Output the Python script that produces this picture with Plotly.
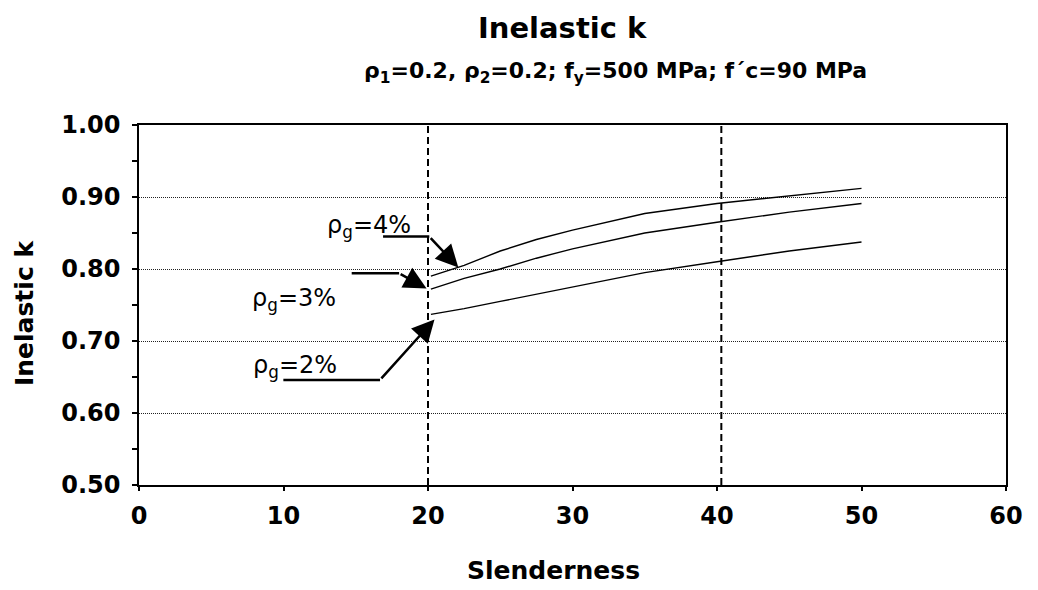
import plotly.graph_objects as go

# ---- data ----
slenderness = [20.2, 22.5, 25, 27.5, 30, 35, 40, 45, 50]
k_rho4 = [0.790, 0.805, 0.825, 0.841, 0.854, 0.877, 0.891, 0.902, 0.912]
k_rho3 = [0.772, 0.787, 0.800, 0.815, 0.828, 0.850, 0.865, 0.879, 0.891]
k_rho2 = [0.737, 0.745, 0.755, 0.765, 0.775, 0.795, 0.810, 0.825, 0.8375]

limit_lines = [20, 40.3]

labels = ["ρ<sub>g</sub>=4%", "ρ<sub>g</sub>=3%", "ρ<sub>g</sub>=2%"]
label_x = [18.96, 13.8, 13.86]
label_y = [0.859, 0.757, 0.664]
leader_tail_x = [16.89, 14.72, 9.99]
leader_corner_x = [20.09, 18.0, 16.68]
leader_y = [0.845, 0.794, 0.646]
arrow_tip_x = [22.1, 19.9, 20.45]
arrow_tip_y = [0.802, 0.773, 0.730]

x_ticks = [0, 10, 20, 30, 40, 50, 60]
y_ticks = [0.5, 0.6, 0.7, 0.8, 0.9, 1.0]

FONT = "DejaVu Sans, Verdana, sans-serif"

fig = go.Figure()
for ys in (k_rho4, k_rho3, k_rho2):
    fig.add_trace(go.Scatter(x=slenderness, y=ys, mode="lines",
                             line=dict(color="black", width=1.4),
                             showlegend=False, hoverinfo="skip"))

for xv in limit_lines:
    fig.add_shape(type="line", xref="x", yref="y", x0=xv, x1=xv, y0=0.5, y1=1.0,
                  line=dict(color="black", width=2, dash="7px,4px"))

for i in range(3):
    fig.add_trace(go.Scatter(x=[leader_tail_x[i], leader_corner_x[i]],
                             y=[leader_y[i], leader_y[i]], mode="lines",
                             line=dict(color="black", width=2.5),
                             showlegend=False, hoverinfo="skip"))
    fig.add_annotation(x=arrow_tip_x[i], y=arrow_tip_y[i], ax=leader_corner_x[i], ay=leader_y[i],
                       xref="x", yref="y", axref="x", ayref="y", text="",
                       showarrow=True, arrowhead=2, arrowsize=1.8, arrowwidth=2.5,
                       arrowcolor="black", standoff=0, startstandoff=0)
    fig.add_annotation(x=label_x[i], y=label_y[i], xref="x", yref="y", text=labels[i],
                       showarrow=False, xanchor="right", yanchor="middle",
                       font=dict(family=FONT, size=24, color="black"))

W, H = 1038, 590
ML, MR, MT, MB = 139, 32, 125, 105


def px(xp):
    return (xp - ML) / (W - ML - MR)


def py(yp):
    return 1 - (yp - MT) / (H - MT - MB)


fig.add_annotation(x=px(562), y=py(28), xref="paper", yref="paper",
                   text="<b>Inelastic k</b>", showarrow=False,
                   xanchor="center", yanchor="middle",
                   font=dict(family=FONT, size=29, color="black"))
fig.add_annotation(x=px(615), y=py(72), xref="paper", yref="paper",
                   text="<b>ρ<sub>1</sub>=0.2, ρ<sub>2</sub>=0.2; f<sub>y</sub>=500 MPa; f´c=90 MPa</b>",
                   showarrow=False, xanchor="center", yanchor="middle",
                   font=dict(family=FONT, size=22, color="black"))
fig.add_annotation(x=px(553), y=py(570), xref="paper", yref="paper",
                   text="<b>Slenderness</b>", showarrow=False,
                   xanchor="center", yanchor="middle",
                   font=dict(family=FONT, size=25, color="black"))
fig.add_annotation(x=px(24), y=py(313), xref="paper", yref="paper",
                   text="<b>Inelastic k</b>", showarrow=False,
                   textangle=-90, xanchor="center", yanchor="middle",
                   font=dict(family=FONT, size=25, color="black"))

fig.update_layout(
    width=W, height=H,
    margin=dict(l=ML, r=MR, t=MT, b=MB, pad=0),
    paper_bgcolor="white", plot_bgcolor="white",
    showlegend=False,
    font=dict(family=FONT, color="black"),
    xaxis=dict(range=[0, 60], tickvals=x_ticks, ticktext=[f"<b>{v}</b>" for v in x_ticks],
               showgrid=False, zeroline=False, showline=True, linecolor="black", linewidth=1.5,
               mirror=True, ticks="outside", ticklen=4, tickwidth=1.5, tickcolor="black",
               ticklabelstandoff=4,
               tickfont=dict(family=FONT, size=24, color="black")),
    yaxis=dict(range=[0.5, 1.0], tickvals=y_ticks, ticktext=[f"<b>{v:.2f}</b>" for v in y_ticks],
               showgrid=True, gridcolor="#222222", gridwidth=1, griddash="1px,1px",
               zeroline=False, showline=True, linecolor="black", linewidth=1.5,
               mirror=True, ticks="outside", ticklen=5, tickwidth=1.5, tickcolor="black",
               ticklabelstandoff=7,
               tickfont=dict(family=FONT, size=24, color="black"),
               minor=dict(tickvals=[0.55, 0.65, 0.75, 0.85, 0.95], ticks="outside",
                          ticklen=5, tickwidth=1.5, tickcolor="black", showgrid=False)),
)

fig.write_html("out.html")
